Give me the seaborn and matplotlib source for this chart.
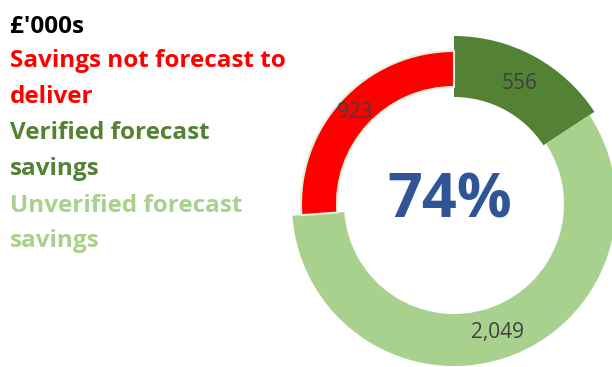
import matplotlib
matplotlib.use("Agg")
import matplotlib.pyplot as plt
import seaborn as sns

sns.set_theme(style="white")
plt.rcParams["font.family"] = ["Open Sans", "DejaVu Sans"]

# data (£'000s), clockwise from 12 o'clock
categories = ["Verified forecast savings", "Unverified forecast savings", "Savings not forecast to deliver"]
values = [556, 2049, 923]
colors = ["#548235", "#A9D18E", "#FF0000"]

# ring geometry per segment (pixels), Excel-style uneven widths
r_out = [168, 162, 153]
r_in = [107, 110, 117]

W, H = 612, 367
cx, cy = 454, H - 204

fig = plt.figure(figsize=(W / 100, H / 100), dpi=100)
ax = fig.add_axes([0, 0, 1, 1])

total = sum(values)
for i in range(len(values)):
    cols = [colors[i] if j == i else (0, 0, 0, 0) for j in range(len(values))]
    labs = [f"{values[j]:,}" if j == i else "" for j in range(len(values))]
    edge = "#E2F0D9" if i == 2 else "none"
    mid = (r_out[i] + r_in[i]) / 2
    wedges, texts = ax.pie(values, colors=cols, labels=labs, radius=r_out[i],
                           center=(cx, cy), startangle=90, counterclock=False,
                           labeldistance=mid / r_out[i],
                           wedgeprops=dict(width=r_out[i] - r_in[i], edgecolor=edge, linewidth=1.5),
                           textprops=dict(fontsize=15, color="#404040"))
    for j, w in enumerate(wedges):
        if j != i:
            w.set_edgecolor("none")
    for t in texts:
        t.set_ha("center")
        t.set_va("center")

pct = (values[0] + values[1]) / total * 100
ax.text(cx - 4, cy + 2, f"{pct:.0f}%", ha="center", va="center", fontsize=44,
        fontweight="bold", color="#2F5597")

ax.set_xlim(0, W)
ax.set_ylim(0, H)
ax.set_aspect("equal")
ax.axis("off")

# legend text block on the left
legend_lines = [
    ("£'000s", "#000000"),
    ("Savings not forecast to", colors[2]),
    ("deliver", colors[2]),
    ("Verified forecast", colors[0]),
    ("savings", colors[0]),
    ("Unverified forecast", colors[1]),
    ("savings", colors[1]),
]
baselines = [33, 67, 103, 139, 175, 212, 247]
for (txt, c), yb in zip(legend_lines, baselines):
    ax.text(10, H - yb, txt, ha="left", va="baseline", fontsize=17.5,
            fontweight="bold", color=c)

fig.savefig("out.png", dpi=100)
